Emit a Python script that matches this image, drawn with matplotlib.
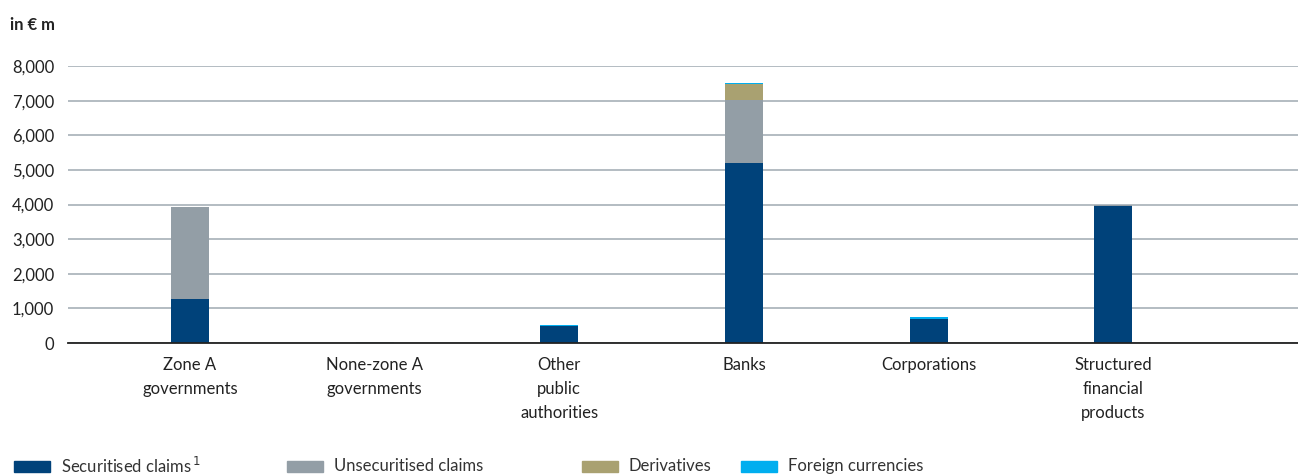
import numpy as np
import matplotlib.pyplot as plt
from matplotlib.patches import Rectangle

plt.rcParams['font.family'] = ['Lato', 'DejaVu Sans']

# Exposure by counterparty, in EUR m
categories = ['Zone A\ngovernments', 'None-zone A\ngovernments', 'Other\npublic\nauthorities',
              'Banks', 'Corporations', 'Structured\nfinancial\nproducts']
securitised = [1270, 10, 490, 5200, 680, 3970]
unsecuritised = [2660, 20, 10, 1820, 15, 20]
derivatives = [0, 0, 0, 460, 0, 0]
foreign_currencies = [0, 0, 20, 30, 70, 0]

series_names = ['Securitised claims$^{\\,1}$', 'Unsecuritised claims', 'Derivatives', 'Foreign currencies']
colors = ['#00427a', '#939ea6', '#a9a171', '#00aeef']
yticks = [0, 1000, 2000, 3000, 4000, 5000, 6000, 7000, 8000]

W, H = 1298, 476
fig = plt.figure(figsize=(W / 100, H / 100), dpi=100)
ax = fig.add_axes([68 / W, 1 - 343 / H, (W - 68) / W, (343 - 66) / H])

x = np.arange(len(categories))
bottom = np.zeros(len(categories))
for vals, col in zip([securitised, unsecuritised, derivatives, foreign_currencies], colors):
    ax.bar(x, vals, width=0.205, bottom=bottom, color=col, zorder=3)
    bottom += np.array(vals)

ax.set_xlim(-0.66, 6.0)
ax.set_ylim(0, 8000)
ax.set_yticks(yticks)
ax.set_yticklabels([f'{v:,}' for v in yticks], fontsize=12, color='#222222')
ax.grid(axis='y', color='#aeb6bd', linewidth=1.3, zorder=0)
ax.tick_params(axis='y', length=0, pad=10)
ax.tick_params(axis='x', length=0, pad=10)
ax.set_xticks(x)
ax.set_xticklabels(categories, fontsize=12, color='#222222', linespacing=1.63, va='top')
for s in ['top', 'right', 'left']:
    ax.spines[s].set_visible(False)
ax.spines['bottom'].set_color('#222222')
ax.spines['bottom'].set_linewidth(1.3)
ax.spines['bottom'].set_zorder(4)

fig.text(10 / W, 1 - 25 / H, 'in € m', fontsize=12, fontweight='bold', color='#222222', va='center')

# legend row along the bottom
leg_x = [14, 287, 582, 741]
for xp, name, col in zip(leg_x, series_names, colors):
    fig.patches.append(Rectangle((xp / W, 1 - 472 / H), 36 / W, 11 / H,
                                 transform=fig.transFigure, color=col))
    fig.text((xp + 47) / W, 1 - 466 / H, name, fontsize=12, color='#333333', va='center')

fig.savefig('out.png', dpi=100)
